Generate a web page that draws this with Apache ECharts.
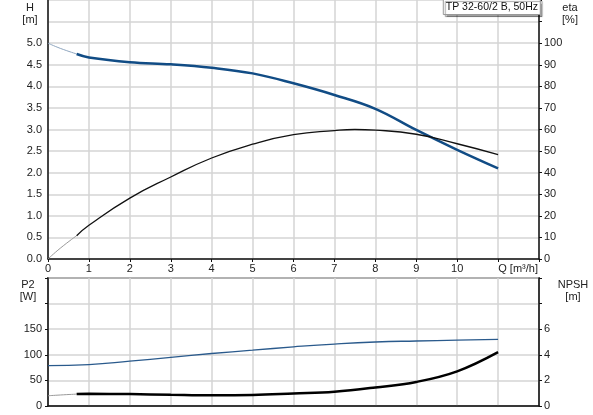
<!DOCTYPE html>
<html>
<head>
<meta charset="utf-8">
<script src="https://cdn.jsdelivr.net/npm/echarts@6/dist/echarts.min.js"></script>
<style>
html, body { margin: 0; padding: 0; background: #fff; }
#chart { width: 593px; height: 415px; }
</style>
</head>
<body>
<div id="chart"></div>
<script>
// flow rate Q [m3/h]
const qLead = [0, 0.3, 0.7]
const qMain = [0.7, 1, 2, 3, 4, 5, 6, 7, 8, 9, 10, 11]
const qEta = [0.7, 1, 2, 3, 4, 5, 6, 7, 7.5, 8, 9, 10, 11]
const qPower = [0, 1, 2, 3, 4, 5, 6, 7, 8, 9, 10, 11]

// head H [m]
const headLead = [5.0, 4.88, 4.75]
const head = [4.75, 4.67, 4.56, 4.51, 4.43, 4.30, 4.07, 3.80, 3.48, 2.99, 2.53, 2.1]

// efficiency eta [%]
const etaLead = [0, 5, 10.8]
const eta = [10.8, 15.6, 28.2, 38, 46.8, 53.2, 57.6, 59.5, 60, 59.7, 57.8, 53.4, 48.4]

// shaft power P2 [W]
const power = [79, 81, 87.5, 95, 102.5, 109, 115.5, 121, 125, 127, 128.5, 130]

// NPSH [m]
const npshLead = [0.8, 0.86, 0.93]
const npsh = [0.93, 0.95, 0.93, 0.88, 0.84, 0.86, 0.98, 1.12, 1.45, 1.88, 2.71, 4.21]

const title = 'TP 32-60/2 B, 50Hz'

const zip = (xs, ys) => xs.map((x, i) => [x, ys[i]])

const font = "'Liberation Sans', Arial, sans-serif"
const labelStyle = {color: '#222', fontSize: 11, fontFamily: font}
const gridLine = {show: true, lineStyle: {color: '#d4d4d4', width: 1.5}}
const axisLine = {show: true, lineStyle: {color: '#111', width: 1.5}}

const chart = echarts.init(document.getElementById('chart'))

const nameText = (text, left, top) => ({
    text: text,
    left: left,
    top: top,
    textAlign: 'center',
    textStyle: {color: '#222', fontSize: 11, fontWeight: 'normal', fontFamily: font, lineHeight: 12}
})

chart.setOption({
    animation: false,
    title: [
        {
            text: title,
            right: 52,
            top: -1,
            padding: [3, 3, 2, 3],
            borderColor: '#999',
            borderWidth: 1,
            backgroundColor: '#fff',
            shadowColor: 'rgba(0,0,0,0.35)',
            shadowOffsetX: 2,
            shadowOffsetY: 2,
            shadowBlur: 1,
            textStyle: {color: '#111', fontSize: 10.5, fontWeight: 'normal', fontFamily: font}
        },
        nameText('H\n[m]', 25, -3),
        nameText('eta\n[%]', 565, -3),
        nameText('P2\n[W]', 23, 274),
        nameText('NPSH\n[m]', 568, 274)
    ],
    grid: [
        {left: 48, right: 54, top: 0, height: 259},
        {left: 48, right: 54, top: 278, height: 128, show: true, borderColor: '#111', borderWidth: 1.5, backgroundColor: 'transparent'}
    ],
    xAxis: [
        {
            gridIndex: 0, type: 'value', min: 0, max: 12, interval: 1,
            axisLine: axisLine,
            axisTick: {show: true, length: 3, lineStyle: {color: '#111'}},
            splitLine: gridLine,
            axisLabel: Object.assign({}, labelStyle, {
                margin: 4,
                showMaxLabel: true,
                formatter: v => v === 11 ? '{q|Q [m³/h]}' : (v > 11 ? '' : String(v)),
                rich: {q: {color: '#222', fontSize: 11, fontFamily: font, padding: [0, 0, 0, 40]}}
            })
        },
        {
            gridIndex: 1, type: 'value', min: 0, max: 12, interval: 1,
            axisLine: axisLine,
            axisTick: {show: false},
            splitLine: gridLine,
            axisLabel: {show: false}
        }
    ],
    yAxis: [
        {
            gridIndex: 0, type: 'value', position: 'left', min: 0, max: 6, interval: 0.5,
            axisLine: axisLine,
            axisTick: {show: false},
            splitLine: gridLine,
            axisLabel: Object.assign({}, labelStyle, {
                margin: 6,
                formatter: v => v > 5 ? '' : v.toFixed(1)
            })
        },
        {
            gridIndex: 0, type: 'value', position: 'right', min: 0, max: 120, interval: 10,
            axisLine: axisLine,
            axisTick: {show: true, length: 3, lineStyle: {color: '#111'}},
            splitLine: {show: false},
            axisLabel: Object.assign({}, labelStyle, {
                margin: 5,
                formatter: v => v > 100 ? '' : String(v)
            })
        },
        {
            gridIndex: 1, type: 'value', position: 'left', min: 0, max: 250, interval: 50,
            axisLine: axisLine,
            axisTick: {show: true, length: 3, lineStyle: {color: '#111'}},
            splitLine: gridLine,
            axisLabel: Object.assign({}, labelStyle, {
                margin: 6,
                formatter: v => v > 150 ? '' : String(v)
            })
        },
        {
            gridIndex: 1, type: 'value', position: 'right', min: 0, max: 10, interval: 2,
            axisLine: axisLine,
            axisTick: {show: true, length: 3, lineStyle: {color: '#111'}},
            splitLine: {show: false},
            axisLabel: Object.assign({}, labelStyle, {
                margin: 5,
                formatter: v => v > 6 ? '' : String(v)
            })
        }
    ],
    series: [
        {
            type: 'line', xAxisIndex: 0, yAxisIndex: 0, smooth: true, symbol: 'none',
            lineStyle: {color: '#8fa6bf', width: 1},
            data: zip(qLead, headLead)
        },
        {
            type: 'line', xAxisIndex: 0, yAxisIndex: 0, smooth: 0.4, symbol: 'none',
            lineStyle: {color: '#114c85', width: 2.5},
            data: zip(qMain, head), z: 3
        },
        {
            type: 'line', xAxisIndex: 0, yAxisIndex: 1, smooth: true, symbol: 'none',
            lineStyle: {color: '#999', width: 1},
            data: zip(qLead, etaLead)
        },
        {
            type: 'line', xAxisIndex: 0, yAxisIndex: 1, smooth: 0.5, symbol: 'none',
            lineStyle: {color: '#111', width: 1.3},
            data: zip(qEta, eta)
        },
        {
            type: 'line', xAxisIndex: 1, yAxisIndex: 2, smooth: true, symbol: 'none',
            lineStyle: {color: '#2a5a8c', width: 1.3},
            data: zip(qPower, power)
        },
        {
            type: 'line', xAxisIndex: 1, yAxisIndex: 3, smooth: true, symbol: 'none',
            lineStyle: {color: '#999', width: 1},
            data: zip(qLead, npshLead)
        },
        {
            type: 'line', xAxisIndex: 1, yAxisIndex: 3, smooth: 0.4, symbol: 'none',
            lineStyle: {color: '#000', width: 2.5},
            data: zip(qMain, npsh)
        }
    ]
})
</script>
</body>
</html>
